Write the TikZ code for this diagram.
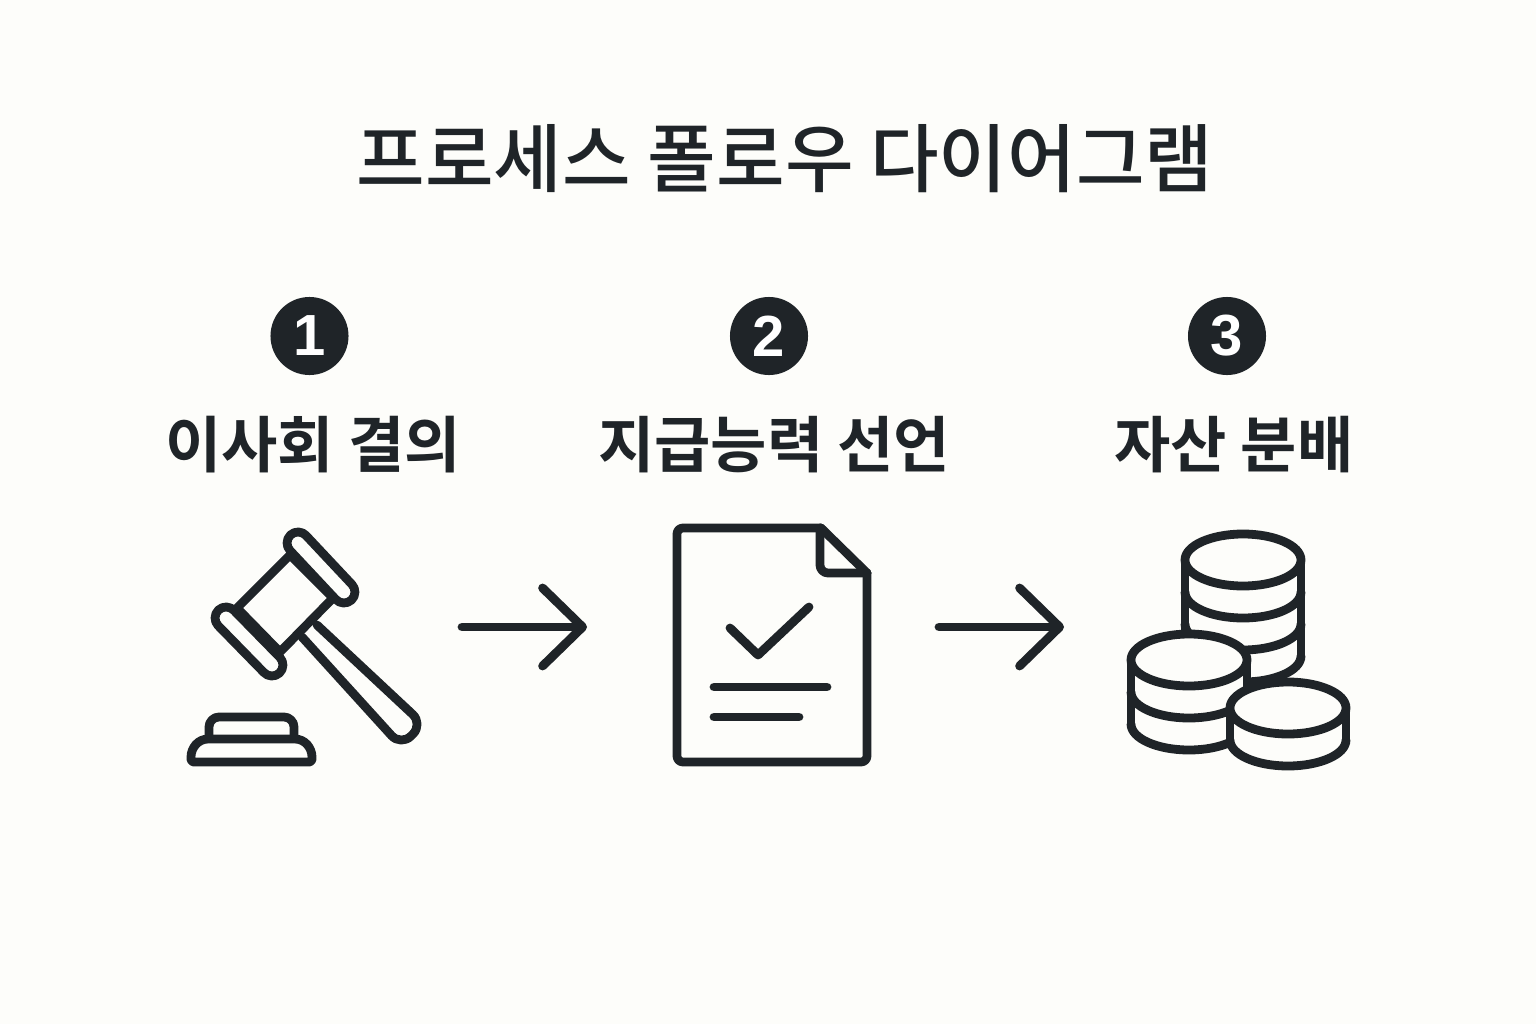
\documentclass[tikz,border=0pt]{standalone}
\usepackage{fontspec}
\setmainfont{Noto Sans CJK KR}[BoldFont={Noto Sans CJK KR Bold}]
\newfontfamily\numfont{Liberation Sans}
\newfontfamily\medfont{Noto Sans CJK KR Medium}
\usetikzlibrary{arrows.meta}
\definecolor{inkc}{HTML}{1F2428}
\definecolor{paperc}{HTML}{FDFDFA}
\tikzset{
	titletext/.style={text=inkc,font=\fontsize{21.2}{24}\medfont},
	steptext/.style={text=inkc,font=\fontsize{17.4}{20}\selectfont\bfseries},
	numdisc/.style={circle,fill=inkc,text=white,minimum size=0.78cm,inner sep=0pt,font=\fontsize{16.5}{20}\numfont\bfseries},
	icon/.style={draw=inkc,line width=2.5pt,line join=round,line cap=round},
	flowarrow/.style={icon,-{Straight Barb[length=0.4cm,width=0.78cm,round]}},
}
% one stack of coins: centre x, top y, number of layers
\newcommand{\coinstack}[3]{
	\fill[paperc] (#1-58,#2) -- (#1-58,#2+#3*32) arc[start angle=180,end angle=0,x radius=58,y radius=26] -- (#1+58,#2) -- cycle;
	\draw[icon,fill=paperc] (#1,#2) ellipse[x radius=58,y radius=26];
	\draw[icon] (#1-58,#2) -- (#1-58,#2+#3*32);
	\draw[icon] (#1+58,#2) -- (#1+58,#2+#3*32);
	\foreach \k in {1,...,#3}
		\draw[icon] (#1-58,#2+\k*32) arc[start angle=180,end angle=0,x radius=58,y radius=26];
}
\begin{document}
\begin{tikzpicture}[x=0.01cm,y=-0.01cm]
	\useasboundingbox[fill=paperc] (0,0) rectangle (1536,1024);
	\node[titletext] (title) at (785,159) {프로세스 폴로우 다이어그램};

	\node[numdisc] (numa) at (309.5,336) {1};
	\node[numdisc] (numb) at (769,336) {2};
	\node[numdisc] (numc) at (1227,336) {3};
	\node[steptext] (stepa) at (313,445) {이사회 결의};
	\node[steptext] (stepb) at (774,445) {지급능력 선언};
	\node[steptext] (stepc) at (1234,445) {자산 분배};

	% gavel
	\draw[icon,fill=paperc,rounded corners=0.14cm] (317,625) -- (423,724) -- (401,746) -- (302,637);
	\draw[icon,fill=paperc] (290,555) -- (237,608) -- (280,652) -- (333,598) -- cycle;
	\draw[icon,fill=paperc] (306,535.5) -- (352,584.5) arc[start angle=-43,end angle=137,radius=11] -- (290,550.5) arc[start angle=137,end angle=317,radius=11] -- cycle;
	\draw[icon,fill=paperc] (234,610.5) -- (280,657.5) arc[start angle=-43,end angle=137,radius=11] -- (218,625.5) arc[start angle=137,end angle=317,radius=11] -- cycle;
	\draw[icon,rounded corners=0.1cm] (209,738) -- (209,717) -- (294,717) -- (294,738);
	\draw[icon] (193,762) -- (191,760) -- (191,757) .. controls (191,748) and (198,739) .. (208,739) -- (295,739) .. controls (305,739) and (312,748) .. (312,757) -- (312,760) -- (310,762) -- cycle;

	% document
	\draw[icon,rounded corners=0.06cm] (821,528) -- (677,528) -- (677,762) -- (867,762) -- (867,573);
	\draw[icon] (821,528) -- (867,573);
	\draw[icon,rounded corners=0.08cm] (820,528) -- (820,573) -- (867,573);
	\draw[icon] (730,628) -- (758,655) -- (809,607);
	\draw[icon] (714,687) -- (827,687);
	\draw[icon] (714,717) -- (799,717);

	% coins
	\coinstack{1243}{560}{3}
	\coinstack{1189}{660}{2}
	\coinstack{1288}{708}{1}

	\coordinate (gavelout) at (462,627);
	\coordinate (docin) at (587,627);
	\coordinate (docout) at (939,627);
	\coordinate (coinsin) at (1064,627);
	\draw[flowarrow] (gavelout) -- (docin);
	\draw[flowarrow] (docout) -- (coinsin);
\end{tikzpicture}
\end{document}
